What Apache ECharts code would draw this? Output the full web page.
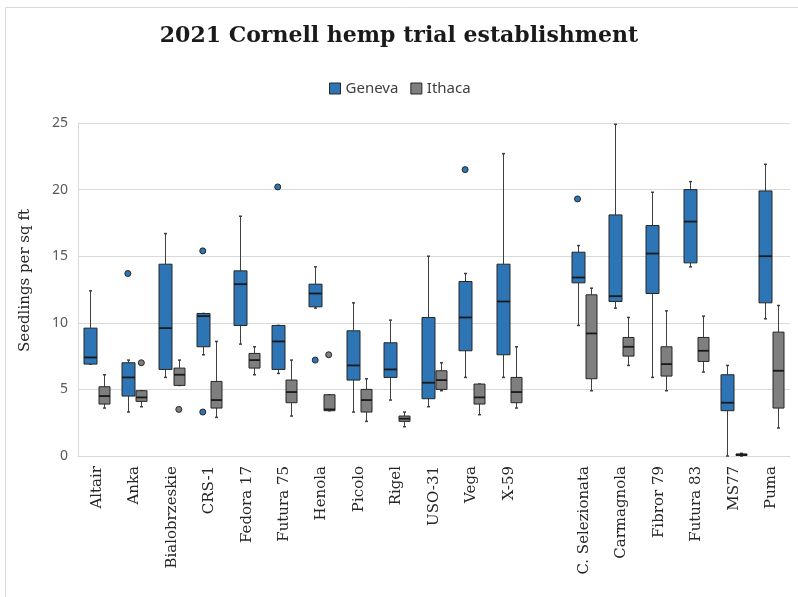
<!DOCTYPE html>
<html>
<head>
<meta charset="utf-8">
<script src="https://cdn.jsdelivr.net/npm/echarts@6/dist/echarts.min.js"></script>
<style>html,body{margin:0;padding:0;background:#fff}#main{width:798px;height:597px}</style>
</head>
<body>
<div id="main"></div>
<script>
// Categories (empty string = gap slot between the two groups)
const categories = ['Altair','Anka','Bialobrzeskie','CRS-1','Fedora 17','Futura 75','Henola','Picolo','Rigel','USO-31','Vega','X-59','','C. Selezionata','Carmagnola','Fibror 79','Futura 83','MS77','Puma'];

// [min, Q1, median, Q3, max] per category
const genevaStats = [
  [6.9, 6.9, 7.4, 9.6, 12.4],
  [3.3, 4.5, 5.9, 7.0, 7.2],
  [5.9, 6.5, 9.6, 14.4, 16.7],
  [7.6, 8.2, 10.5, 10.7, 10.7],
  [8.4, 9.8, 12.9, 13.9, 18.0],
  [6.2, 6.5, 8.6, 9.8, 9.8],
  [11.1, 11.2, 12.2, 12.9, 14.2],
  [3.3, 5.7, 6.8, 9.4, 11.5],
  [4.2, 5.9, 6.5, 8.5, 10.2],
  [3.7, 4.3, 5.5, 10.4, 15.0],
  [5.9, 7.9, 10.4, 13.1, 13.7],
  [5.9, 7.6, 11.6, 14.4, 22.7],
  null,
  [9.8, 13.0, 13.4, 15.3, 15.8],
  [11.1, 11.6, 12.0, 18.1, 24.9],
  [5.9, 12.2, 15.2, 17.3, 19.8],
  [14.2, 14.5, 17.6, 20.0, 20.6],
  [0.0, 3.4, 4.0, 6.1, 6.8],
  [10.3, 11.5, 15.0, 19.9, 21.9]
];
const ithacaStats = [
  [3.6, 3.9, 4.5, 5.2, 6.1],
  [3.7, 4.1, 4.4, 4.9, 4.9],
  [5.3, 5.3, 6.1, 6.6, 7.2],
  [2.9, 3.6, 4.2, 5.6, 8.6],
  [6.1, 6.6, 7.2, 7.7, 8.2],
  [3.0, 4.0, 4.8, 5.7, 7.2],
  [3.4, 3.4, 3.5, 4.6, 4.6],
  [2.6, 3.3, 4.2, 5.0, 5.8],
  [2.2, 2.6, 2.8, 3.0, 3.3],
  [4.9, 5.0, 5.7, 6.4, 7.0],
  [3.1, 3.9, 4.4, 5.4, 5.4],
  [3.6, 4.0, 4.8, 5.9, 8.2],
  null,
  [4.9, 5.8, 9.2, 12.1, 12.6],
  [6.8, 7.5, 8.2, 8.9, 10.4],
  [4.9, 6.0, 6.9, 8.2, 10.9],
  [6.3, 7.1, 7.9, 8.9, 10.5],
  [0.0, 0.05, 0.1, 0.15, 0.2],
  [2.1, 3.6, 6.4, 9.3, 11.3]
];
// Outliers: [category, value]
const genevaOutliers = [['Anka',13.7],['CRS-1',15.4],['CRS-1',3.3],['Futura 75',20.2],['Henola',7.2],['Vega',21.5],['C. Selezionata',19.3]];
const ithacaOutliers = [['Anka',7.0],['Bialobrzeskie',3.5],['Henola',7.6]];

const yTicks = [0, 5, 10, 15, 20, 25];

const GENEVA = '#2e75b6', ITHACA = '#7f7f7f', EDGE = '#262626', WHISK = '#404040';

function boxData(stats) {
  const out = [];
  stats.forEach((s, i) => { if (s) out.push([i].concat(s)); });
  return out;
}
function outData(list) {
  return list.map(o => [categories.indexOf(o[0]), o[1]]);
}
function boxRender(offFrac, width, fill) {
  return function (params, api) {
    const idx = api.value(0);
    const bw = api.size([1, 0])[0];
    const cx = Math.round(api.coord([idx, 0])[0] + offFrac * bw) + 0.5;
    const y = k => api.coord([idx, api.value(k)])[1];
    const yMin = y(1), yQ1 = y(2), yMed = y(3), yQ3 = y(4), yMax = y(5);
    const h = width / 2;
    return {
      type: 'group',
      children: [
        { type: 'line', shape: { x1: cx, y1: yMax, x2: cx, y2: yQ3 }, style: { stroke: WHISK, lineWidth: 1 } },
        { type: 'line', shape: { x1: cx, y1: yQ1, x2: cx, y2: yMin }, style: { stroke: WHISK, lineWidth: 1 } },
        { type: 'line', shape: { x1: cx - 1.5, y1: yMax, x2: cx + 1.5, y2: yMax }, style: { stroke: WHISK, lineWidth: 1.5 } },
        { type: 'line', shape: { x1: cx - 1.5, y1: yMin, x2: cx + 1.5, y2: yMin }, style: { stroke: WHISK, lineWidth: 1.5 } },
        { type: 'rect', shape: { x: cx - h, y: yQ3, width: width, height: Math.max(yQ1 - yQ3, 1.5) }, style: { fill: fill, stroke: EDGE, lineWidth: 1 } },
        { type: 'line', shape: { x1: cx - h, y1: yMed, x2: cx + h, y2: yMed }, style: { stroke: '#1a1a1a', lineWidth: 1.8 } }
      ]
    };
  };
}
function outRender(offFrac, fill) {
  return function (params, api) {
    const idx = api.value(0);
    const bw = api.size([1, 0])[0];
    const p = api.coord([idx, api.value(1)]);
    return { type: 'circle', shape: { cx: p[0] + offFrac * bw, cy: p[1], r: 3 }, style: { fill: fill, stroke: EDGE, lineWidth: 1 } };
  };
}

const chart = echarts.init(document.getElementById('main'), null, { renderer: 'canvas' });
chart.setOption({
  backgroundColor: '#fff',
  animation: false,
  graphic: [{ type: 'rect', shape: { x: 5.5, y: 7.5, width: 820, height: 620 }, style: { fill: 'none', stroke: '#d9d9d9', lineWidth: 1 }, silent: true }],
  title: {
    text: '2021 Cornell hemp trial establishment',
    left: 'center', top: 20,
    textStyle: { fontFamily: 'DejaVu Serif', fontWeight: 'bold', fontSize: 22, color: '#1a1a1a' }
  },
  legend: {
    left: 324, top: 76,
    itemWidth: 11, itemHeight: 11, itemGap: 12,
    textStyle: { fontFamily: 'Noto Sans', fontSize: 15, color: '#404040' },
    data: [
      { name: 'Geneva', icon: 'rect', itemStyle: { color: GENEVA, borderColor: EDGE, borderWidth: 1 } },
      { name: 'Ithaca', icon: 'rect', itemStyle: { color: ITHACA, borderColor: EDGE, borderWidth: 1 } }
    ]
  },
  grid: { left: 78, right: 8, top: 123, bottom: 141, containLabel: false },
  xAxis: {
    type: 'category', data: categories, boundaryGap: true,
    axisLine: { show: true, lineStyle: { color: '#d9d9d9' } },
    axisTick: { show: false },
    axisLabel: { rotate: 90, interval: 0, margin: 10, fontFamily: 'DejaVu Serif', fontSize: 15, color: '#262626' },
    splitLine: { show: false }
  },
  yAxis: {
    type: 'value', min: yTicks[0], max: yTicks[yTicks.length - 1], interval: 5,
    name: 'Seedlings per sq ft', nameLocation: 'middle', nameGap: 45,
    nameTextStyle: { fontFamily: 'DejaVu Serif', fontSize: 15, color: '#262626', padding: [0, 0, 0, 18] },
    axisLine: { show: true, lineStyle: { color: '#d9d9d9' } },
    axisTick: { show: false },
    axisLabel: { margin: 10, fontFamily: 'Noto Sans', fontSize: 14, color: '#595959' },
    splitLine: { show: true, lineStyle: { color: '#d9d9d9', width: 1 } }
  },
  series: [
    { name: 'Geneva', type: 'custom', renderItem: boxRender(-0.17, 13, GENEVA), data: boxData(genevaStats),
      encode: { x: 0, y: [1, 2, 3, 4, 5] }, itemStyle: { color: GENEVA } },
    { name: 'Ithaca', type: 'custom', renderItem: boxRender(0.19, 11, ITHACA), data: boxData(ithacaStats),
      encode: { x: 0, y: [1, 2, 3, 4, 5] }, itemStyle: { color: ITHACA } },
    { name: 'Geneva', type: 'custom', renderItem: outRender(-0.17, GENEVA), data: outData(genevaOutliers),
      encode: { x: 0, y: 1 }, itemStyle: { color: GENEVA } },
    { name: 'Ithaca', type: 'custom', renderItem: outRender(0.19, ITHACA), data: outData(ithacaOutliers),
      encode: { x: 0, y: 1 }, itemStyle: { color: ITHACA } }
  ]
});
</script>
</body>
</html>
